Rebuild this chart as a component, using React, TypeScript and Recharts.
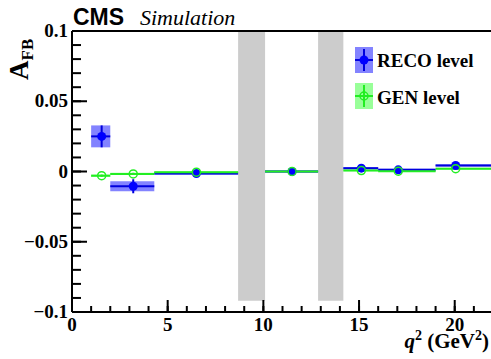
import React from 'react';
import {
  ComposedChart,
  XAxis,
  YAxis,
  Scatter,
  ErrorBar,
  ReferenceArea,
  ReferenceLine,
} from 'recharts';

// q^2 bins (GeV^2)
const binLow = [1, 2, 4.3, 10.09, 14.18, 16, 19];
const binHigh = [2, 4.3, 8.68, 12.86, 16, 19, 22];
const binMeanQ2 = [1.55, 3.2, 6.5, 11.5, 15.12, 17.05, 20.05];

// Forward-backward asymmetry, reconstructed level
const recoAfb = [0.025, -0.0105, -0.0015, 0.0, 0.0024, 0.0012, 0.0043];
const recoStatErr = [0.0078, 0.005, 0.001, 0.001, 0.0012, 0.001, 0.001];
const recoBoxErr = [0.0078, 0.0035, 0.0008, 0.0008, 0.0008, 0.0008, 0.0008];

// Forward-backward asymmetry, generator level
const genAfb = [-0.003, -0.0017, -0.0005, 0.0, 0.0007, 0.0002, 0.002];
const genErr = [0.0008, 0.0008, 0.0006, 0.0006, 0.0006, 0.0006, 0.0006];

// Charmonium veto regions
const vetoLow = [8.68, 12.86];
const vetoHigh = [10.09, 14.18];
const vetoFloor = -0.092;

const xTicks = [0, 1, 2, 3, 4, 5, 6, 7, 8, 9, 10, 11, 12, 13, 14, 15, 16, 17, 18, 19, 20, 21, 22];
const yTicks = [
  -0.1, -0.09, -0.08, -0.07, -0.06, -0.05, -0.04, -0.03, -0.02, -0.01, 0,
  0.01, 0.02, 0.03, 0.04, 0.05, 0.06, 0.07, 0.08, 0.09, 0.1,
];
const xMajor = [0, 5, 10, 15, 20];
const yMajorLabels: Record<string, string> = {
  '-0.1': '\u22120.1',
  '-0.05': '\u22120.05',
  '0': '0',
  '0.05': '0.05',
  '0.1': '0.1',
};

const rows = binMeanQ2.map((q2, i) => ({
  q2,
  reco: recoAfb[i],
  recoXErr: [q2 - binLow[i], binHigh[i] - q2],
  recoYErr: recoStatErr[i],
  gen: genAfb[i],
  genXErr: [q2 - binLow[i], binHigh[i] - q2],
  genYErr: genErr[i],
}));

const SERIF = 'Liberation Serif';
const SANS = 'Liberation Sans';
const RECO_BLUE = '#0000ff';
const RECO_LINE = '#0000dd';
const RECO_BOX = '#5a5aff';
const GEN_GREEN = '#22ee22';
const GEN_BOX = '#55ff55';

// inward tick lengths in px (minor ones drawn by the axes themselves)
const Y_MINOR = 9;
const Y_MAJOR = 15;
const X_MINOR = 6;
const X_MAJOR = 12;

const YTick = (props: any) => {
  const { x, y, payload } = props;
  const v = payload.value;
  const label = yMajorLabels[String(Math.round(v * 1000) / 1000)];
  if (label === undefined) return <g />;
  // x arrives at the inner end of the minor tick
  const axisX = x - Y_MINOR;
  return (
    <g>
      <line x1={axisX} x2={axisX + Y_MAJOR} y1={y} y2={y} stroke="#000000" strokeWidth={2} />
      <text
        x={axisX - 4}
        y={y + 6}
        textAnchor="end"
        fontFamily={SERIF}
        fontWeight="bold"
        fontSize={19}
        fill="#000"
      >
        {label}
      </text>
    </g>
  );
};

const XTick = (props: any) => {
  const { x, y, payload } = props;
  const v = payload.value;
  if (!xMajor.includes(v)) return <g />;
  const axisY = y + X_MINOR;
  return (
    <g>
      <line x1={x} x2={x} y1={axisY} y2={axisY - X_MAJOR} stroke="#000000" strokeWidth={2} />
      <text
        x={x}
        y={axisY + 19}
        textAnchor="middle"
        fontFamily={SERIF}
        fontWeight="bold"
        fontSize={19}
        fill="#000"
      >
        {v}
      </text>
    </g>
  );
};

const RecoDot = (props: any) => {
  const { cx, cy } = props;
  if (cx == null || cy == null) return null;
  return <circle cx={cx} cy={cy} r={4.5} fill={RECO_BLUE} />;
};

const GenDot = (props: any) => {
  const { cx, cy } = props;
  if (cx == null || cy == null) return null;
  return <circle cx={cx} cy={cy} r={4} fill="none" stroke={GEN_GREEN} strokeWidth={1.5} />;
};

export default function App() {
  return (
    <div
      style={{
        position: 'absolute',
        left: 0,
        top: 0,
        width: 491,
        height: 359,
        overflow: 'hidden',
        background: '#fff',
      }}
    >
      {/* titles, axis captions and legend sit underneath the chart layer */}
      <svg
        width={491}
        height={359}
        style={{ position: 'absolute', left: 0, top: 0, pointerEvents: 'none' }}
      >
        <text x={73} y={25} fontFamily={SANS} fontWeight="bold" fontSize={23} fill="#000">
          CMS
        </text>
        <text x={140} y={25} fontFamily={SERIF} fontStyle="italic" fontSize={22} fill="#000">
          Simulation
        </text>

        <text
          transform="translate(28,80) rotate(-90)"
          fontFamily={SERIF}
          fontWeight="bold"
          fill="#000"
        >
          <tspan fontSize={27}>A</tspan>
          <tspan fontSize={17} dy={5}>FB</tspan>
        </text>

        <text
          x={489}
          y={348}
          textAnchor="end"
          fontFamily={SERIF}
          fontWeight="bold"
          fontSize={21}
          fill="#000"
        >
          <tspan fontStyle="italic">q</tspan>
          <tspan fontSize={14} dy={-8}>2</tspan>
          <tspan dy={8}> (GeV</tspan>
          <tspan fontSize={14} dy={-8}>2</tspan>
          <tspan dy={8}>)</tspan>
        </text>

        <rect x={355} y={47} width={18} height={26} fill={RECO_BOX} fillOpacity={0.75} />
        <line x1={355} x2={373} y1={60} y2={60} stroke={RECO_LINE} strokeWidth={2} />
        <line x1={364} x2={364} y1={49} y2={71} stroke={RECO_LINE} strokeWidth={2} />
        <circle cx={364} cy={60} r={4.5} fill={RECO_BLUE} />
        <text x={377} y={67} fontFamily={SERIF} fontWeight="bold" fontSize={19} fill="#000">
          RECO level
        </text>

        <rect x={355} y={83} width={18} height={26} fill={GEN_BOX} fillOpacity={0.6} />
        <line x1={355} x2={373} y1={96} y2={96} stroke={GEN_GREEN} strokeWidth={2} />
        <line x1={364} x2={364} y1={85} y2={107} stroke={GEN_GREEN} strokeWidth={2} />
        <circle cx={364} cy={96} r={4} fill="none" stroke={GEN_GREEN} strokeWidth={1.5} />
        <text x={377} y={104} fontFamily={SERIF} fontWeight="bold" fontSize={19} fill="#000">
          GEN level
        </text>
      </svg>

      <ComposedChart
        width={493}
        height={359}
        margin={{ top: 31, right: 0, bottom: 0, left: 0 }}
      >
        <XAxis
          dataKey="q2"
          type="number"
          domain={[0, 22]}
          allowDataOverflow
          ticks={xTicks}
          interval={0}
          tick={<XTick />}
          tickLine={{ stroke: '#000', strokeWidth: 2 }}
          tickSize={-X_MINOR}
          tickMargin={0}
          height={47}
          axisLine={{ stroke: '#000', strokeWidth: 2 }}
        />
        <YAxis
          type="number"
          domain={[-0.1, 0.1]}
          allowDataOverflow
          ticks={yTicks}
          interval={0}
          tick={<YTick />}
          tickLine={{ stroke: '#000', strokeWidth: 2 }}
          tickSize={-Y_MINOR}
          tickMargin={0}
          width={72}
          axisLine={{ stroke: '#000', strokeWidth: 2 }}
        />
        <ReferenceLine y={0.1} stroke="#000" strokeWidth={2} />
        {vetoLow.map((lo, i) => (
          <ReferenceArea
            key={`veto-${i}`}
            x1={lo}
            x2={vetoHigh[i]}
            y1={vetoFloor}
            y2={0.1}
            fill="#cccccc"
            fillOpacity={1}
            stroke="none"
          />
        ))}
        {rows.map((r, i) => (
          <ReferenceArea
            key={`reco-box-${i}`}
            x1={binLow[i]}
            x2={binHigh[i]}
            y1={r.reco - recoBoxErr[i]}
            y2={r.reco + recoBoxErr[i]}
            fill={RECO_BOX}
            fillOpacity={0.75}
            stroke="none"
          />
        ))}
        {rows.map((r, i) => (
          <ReferenceArea
            key={`gen-box-${i}`}
            x1={binLow[i]}
            x2={binHigh[i]}
            y1={r.gen - genErr[i]}
            y2={r.gen + genErr[i]}
            fill={GEN_BOX}
            fillOpacity={0.6}
            stroke="none"
          />
        ))}
        <Scatter data={rows} dataKey="reco" shape={<RecoDot />} isAnimationActive={false}>
          <ErrorBar dataKey="recoXErr" direction="x" width={0} stroke={RECO_LINE} strokeWidth={2} />
          <ErrorBar dataKey="recoYErr" direction="y" width={0} stroke={RECO_LINE} strokeWidth={2} />
        </Scatter>
        <Scatter data={rows} dataKey="gen" shape={<GenDot />} isAnimationActive={false}>
          <ErrorBar dataKey="genXErr" direction="x" width={0} stroke={GEN_GREEN} strokeWidth={2} />
          <ErrorBar dataKey="genYErr" direction="y" width={0} stroke={GEN_GREEN} strokeWidth={2} />
        </Scatter>
      </ComposedChart>
    </div>
  );
}
